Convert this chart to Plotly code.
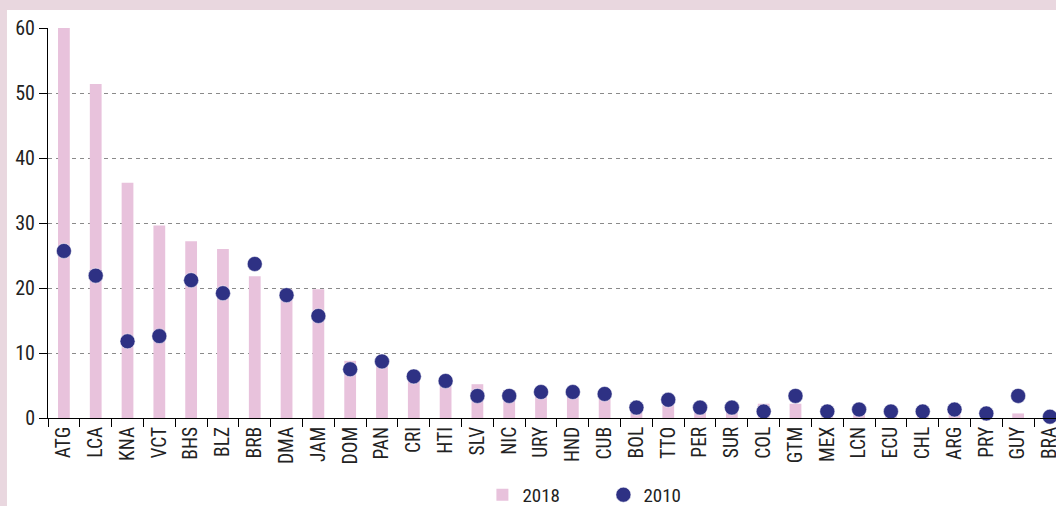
import plotly.graph_objects as go

countries = ["ATG", "LCA", "KNA", "VCT", "BHS", "BLZ", "BRB", "DMA", "JAM", "DOM",
             "PAN", "CRI", "HTI", "SLV", "NIC", "URY", "HND", "CUB", "BOL", "TTO",
             "PER", "SUR", "COL", "GTM", "MEX", "LCN", "ECU", "CHL", "ARG", "PRY",
             "GUY", "BRA"]
values_2018 = [60.3, 51.4, 36.2, 29.6, 27.2, 26.0, 21.8, 19.8, 19.8, 8.8,
               8.6, 6.9, 6.3, 5.2, 4.3, 3.7, 3.7, 3.4, 1.8, 2.0,
               1.0, 1.0, 2.2, 2.2, 1.8, 0.8, 0.7, 0.5, 0.7, 0.2,
               0.7, 0.1]
values_2010 = [25.7, 21.9, 11.8, 12.6, 21.2, 19.2, 23.7, 18.9, 15.7, 7.5,
               8.7, 6.4, 5.7, 3.4, 3.4, 4.0, 4.0, 3.7, 1.6, 2.8,
               1.6, 1.6, 1.0, 3.4, 1.0, 1.3, 1.0, 1.0, 1.3, 0.7,
               3.4, 0.2]
y_ticks = [0, 10, 20, 30, 40, 50, 60]

FONT = "Roboto Condensed, Liberation Sans Narrow, sans-serif"
PINK_BG = "#e9d7df"
BAR = "#e8c2dc"
DOT = "#2e3184"

fig = go.Figure()
fig.add_trace(go.Bar(
    x=countries, y=values_2018, name="2018",
    marker=dict(color=BAR, line=dict(width=0)),
    width=0.37,
))
fig.add_trace(go.Scatter(
    x=countries, y=values_2010, name="2010", mode="markers",
    marker=dict(color=DOT, size=15, line=dict(color="white", width=0.5)),
    cliponaxis=False,
))

fig.add_shape(type="rect", xref="paper", yref="paper",
              x0=-0.0407, x1=1.05, y0=-0.25, y1=1.0462,
              fillcolor="white", line=dict(width=0), layer="below")

fig.update_layout(
    width=1056, height=506,
    margin=dict(l=48, r=0, t=28, b=88, autoexpand=False),
    paper_bgcolor=PINK_BG,
    plot_bgcolor="white",
    font=dict(family=FONT, size=19, color="#222"),
    showlegend=True,
    legend=dict(orientation="h", x=0.551, xanchor="center", y=-0.197, yanchor="middle",
                font=dict(size=19, color="#222", family=FONT), entrywidth=76,
                bgcolor="rgba(0,0,0,0)"),
    bargap=0.6,
    xaxis=dict(
        type="category", range=[-0.5, 31.19], automargin=False,
        showline=True, linecolor="black", linewidth=1,
        ticks="outside", tickson="boundaries", ticklen=8, tickcolor="black",
        tickangle=-90, tickfont=dict(size=19.5, color="#222", family=FONT),
        showgrid=False, zeroline=False,
    ),
    yaxis=dict(
        range=[0, 60], tickvals=y_ticks, automargin=False,
        showline=True, linecolor="black", linewidth=1,
        ticks="outside", ticklen=8, tickcolor="black",
        tickfont=dict(size=20, color="#222", family=FONT),
        showgrid=True, gridcolor="#8a8a8a", gridwidth=1, griddash="4px,4px",
        zeroline=False,
    ),
)

fig.write_html("out.html", config={"displayModeBar": False},
               post_script="document.body.style.margin='0';document.body.style.overflow='hidden';")
